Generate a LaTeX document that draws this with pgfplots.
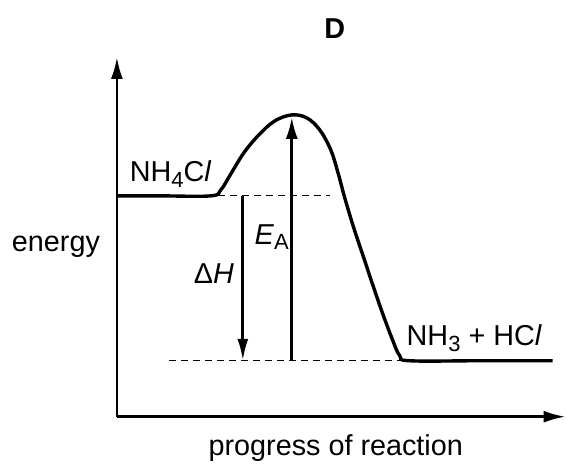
\documentclass[border=0pt]{standalone}
\usepackage{fontspec}
\setmainfont{Liberation Sans}
\usepackage{pgfplots}
\pgfplotsset{compat=1.18}
\usetikzlibrary{arrows.meta}
\begin{document}
\fontsize{14.4}{17}\selectfont
\begin{tikzpicture}
\begin{axis}[
  x=0.5pt, y=0.5pt,
  xmin=117, xmax=566, ymin=47, ymax=407,
  axis lines=left,
  axis line style={line width=1.4pt, -{Latex[length=11pt,width=6pt]}},
  xtick=\empty, ytick=\empty,
  clip=false,
]
% curve (pixel x, 464 - pixel y)
\addplot[line width=1.7pt, smooth, tension=0.6] coordinates {
 (117,268) (160,268) (211,268) (221,274) (231,290) (244,311) (259,329)
 (275,343) (292,349) (307,346) (320,334) (331,314) (338,292) (345,266)
 (354,236) (364,206) (374,176) (383,150) (392,126) (400,108) (410,103)
 (480,103) (553,103)
};
% dashed lines
\addplot[line width=0.6pt, dash pattern=on 3.5pt off 2.5pt] coordinates {(218,268) (330,268)};
\addplot[line width=0.6pt, dash pattern=on 3.5pt off 2.5pt] coordinates {(169,103) (400,103)};
% arrows
\addplot[line width=1.4pt, -{Latex[length=11pt,width=5.5pt]}] coordinates {(243,268) (243,103)};
\addplot[line width=1.4pt, -{Latex[length=11pt,width=6pt]}] coordinates {(292,103) (292,347)};
% labels
\node[anchor=base west] at (axis cs:120,282) {NH\raisebox{-0.35ex}{\fontsize{11}{12}\selectfont 4}C\textit{l}};
\node[anchor=base west] at (axis cs:397,118) {NH\raisebox{-0.35ex}{\fontsize{11}{12}\selectfont 3} + HC\textit{l}};
\node at (axis cs:56,217) {energy};
\node at (axis cs:214,190) {Δ\textit{H}};
\node at (axis cs:272,227) {\textit{E}\raisebox{-0.35ex}{\fontsize{11}{12}\selectfont A}};
\node at (axis cs:335,435) {\textbf{D}};
\node at (axis cs:336,16) {progress of reaction};
\path (axis cs:0,0) rectangle (axis cs:567,464);
\end{axis}
\end{tikzpicture}
\end{document}
